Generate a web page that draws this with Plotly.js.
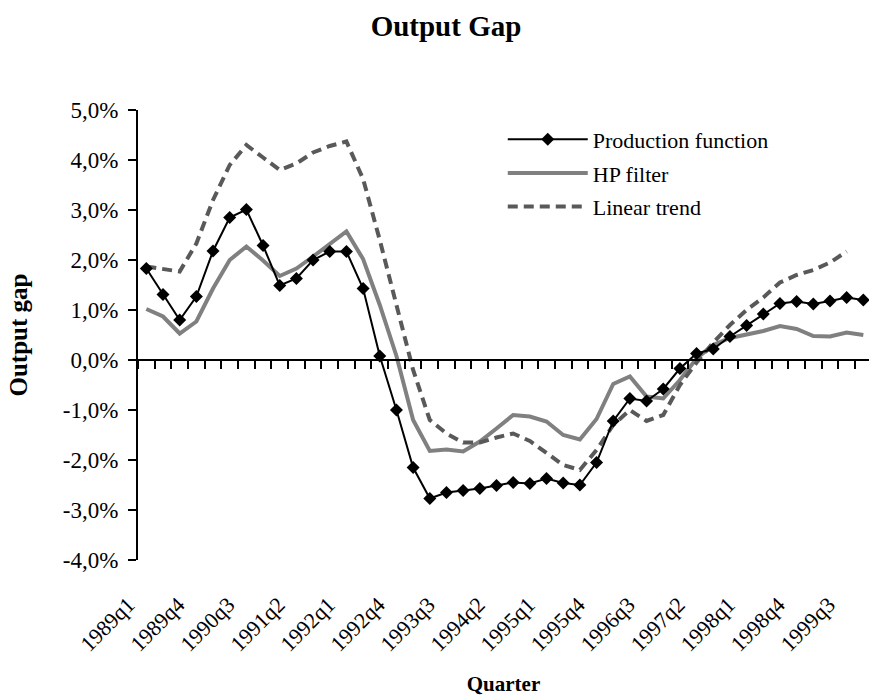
<!DOCTYPE html>
<html>
<head>
<meta charset="utf-8">
<script src="https://cdn.plot.ly/plotly-3.0.1.min.js"></script>
<style>
html, body { margin: 0; padding: 0; background: #ffffff; }
#chart { width: 869px; height: 696px; }
</style>
</head>
<body>
<div id="chart"></div>
<script>
const quarters = [
  '1989q1','1989q2','1989q3','1989q4',
  '1990q1','1990q2','1990q3','1990q4',
  '1991q1','1991q2','1991q3','1991q4',
  '1992q1','1992q2','1992q3','1992q4',
  '1993q1','1993q2','1993q3','1993q4',
  '1994q1','1994q2','1994q3','1994q4',
  '1995q1','1995q2','1995q3','1995q4',
  '1996q1','1996q2','1996q3','1996q4',
  '1997q1','1997q2','1997q3','1997q4',
  '1998q1','1998q2','1998q3','1998q4',
  '1999q1','1999q2','1999q3','1999q4'
];

const tickLabels = ['1989q1','1989q4','1990q3','1991q2','1992q1','1992q4','1993q3',
  '1994q2','1995q1','1995q4','1996q3','1997q2','1998q1','1998q4','1999q3'];

const yTickVals = [-4, -3, -2, -1, 0, 1, 2, 3, 4, 5];
const yTickText = ['-4,0%','-3,0%','-2,0%','-1,0%','0,0%','1,0%','2,0%','3,0%','4,0%','5,0%'];

// Output gap, percent
const productionFunction = [
  1.83, 1.31, 0.80, 1.27,
  2.18, 2.85, 3.01, 2.29,
  1.49, 1.63, 2.00, 2.17,
  2.17, 1.43, 0.08, -1.00,
  -2.15, -2.77, -2.65, -2.61,
  -2.57, -2.51, -2.45, -2.47,
  -2.37, -2.46, -2.50, -2.05,
  -1.22, -0.77, -0.82, -0.58,
  -0.17, 0.13, 0.22, 0.47,
  0.69, 0.92, 1.13, 1.17,
  1.12, 1.18, 1.25, 1.20
];

const hpFilter = [
  1.02, 0.87, 0.53, 0.77,
  1.43, 2.00, 2.27, 1.99,
  1.68, 1.83, 2.07, 2.32,
  2.57, 2.02, 1.10, 0.08,
  -1.20, -1.82, -1.79, -1.83,
  -1.63, -1.37, -1.10, -1.13,
  -1.23, -1.50, -1.59, -1.18,
  -0.48, -0.33, -0.73, -0.77,
  -0.40, 0.03, 0.30, 0.44,
  0.50, 0.58, 0.68, 0.62,
  0.48, 0.47, 0.55, 0.50
];

const linearTrend = [
  1.87, 1.83, 1.77, 2.33,
  3.20, 3.90, 4.30, 4.05,
  3.80, 3.93, 4.15, 4.28,
  4.37, 3.62, 2.40, 1.10,
  -0.20, -1.20, -1.47, -1.65,
  -1.65, -1.55, -1.47, -1.62,
  -1.87, -2.10, -2.20, -1.80,
  -1.30, -1.00, -1.22, -1.10,
  -0.50, -0.05, 0.35, 0.70,
  1.00, 1.25, 1.55, 1.70,
  1.80, 1.95, 2.17, null
];

const FONT = 'Liberation Serif, Times New Roman, serif';

const traces = [
  {
    x: quarters, y: hpFilter, name: 'HP filter', type: 'scatter', mode: 'lines',
    line: { color: '#808080', width: 4 }, legendrank: 2, legendgroup: 'hp', hoverinfo: 'skip'
  },
  {
    x: quarters, y: linearTrend, name: 'Linear trend', type: 'scatter', mode: 'lines',
    line: { color: '#595959', width: 4, dash: '10px,6px' }, legendrank: 3, legendgroup: 'lt', hoverinfo: 'skip'
  },
  {
    x: quarters, y: productionFunction, name: 'Production function', type: 'scatter',
    mode: 'lines+markers',
    line: { color: '#000000', width: 2 },
    marker: { symbol: 'diamond', size: 10, color: '#000000' },
    legendrank: 1, legendgroup: 'pf', hoverinfo: 'skip'
  },
  {
    x: quarters, y: quarters.map(function () { return null; }), xaxis: 'x2', yaxis: 'y',
    type: 'scatter', mode: 'lines', showlegend: false, hoverinfo: 'skip'
  }
];

const xRange = [-0.5, 43.34];

const layout = {
  width: 869, height: 696,
  margin: { l: 138, r: 0, t: 110, b: 136, pad: 0 },
  paper_bgcolor: '#ffffff', plot_bgcolor: '#ffffff',
  font: { family: FONT, color: '#000000', size: 21 },
  title: {
    text: 'Output Gap',
    font: { family: FONT, size: 29, weight: 'bold', color: '#000000' },
    xref: 'container', x: 446 / 869, xanchor: 'center',
    yref: 'container', y: 1 - 26 / 696, yanchor: 'middle'
  },
  showlegend: true,
  legend: {
    x: 0.499, y: 0.981, xanchor: 'left', yanchor: 'top',
    bgcolor: 'rgba(0,0,0,0)', borderwidth: 0,
    font: { family: FONT, size: 22, color: '#000000' },
    itemwidth: 80, traceorder: 'grouped', tracegroupgap: 2
  },
  xaxis: {
    type: 'category', range: xRange,
    tickmode: 'array', tickvals: tickLabels, ticktext: tickLabels,
    tickangle: -45, ticks: 'outside', ticklen: 22, tickcolor: 'rgba(0,0,0,0)',
    ticklabelshift: -18,
    showline: false, showgrid: false, zeroline: false,
    tickfont: { family: FONT, size: 22, color: '#000000' },
    title: { text: 'Quarter', font: { family: FONT, size: 21, weight: 'bold', color: '#000000' }, standoff: 26 }
  },
  xaxis2: {
    type: 'category', overlaying: 'x', anchor: 'free', position: 4 / 9,
    range: xRange, tickmode: 'linear', tick0: 0, dtick: 1, tickson: 'boundaries',
    ticks: 'outside', ticklen: 8, tickwidth: 2, tickcolor: '#000000',
    showline: true, linewidth: 2, linecolor: '#000000',
    showticklabels: false, showgrid: false, zeroline: false
  },
  yaxis: {
    range: [-4, 5], tickmode: 'array', tickvals: yTickVals, ticktext: yTickText,
    ticks: 'outside', ticklen: 8, tickwidth: 2, tickcolor: '#000000',
    ticklabelstandoff: 5,
    showline: true, linewidth: 2, linecolor: '#000000',
    showgrid: false, zeroline: false,
    tickfont: { family: FONT, size: 23, color: '#000000' },
    title: { text: 'Output gap', font: { family: FONT, size: 25, weight: 'bold', color: '#000000' }, standoff: 28 }
  }
};

Plotly.newPlot('chart', traces, layout, { displayModeBar: false, staticPlot: true });
</script>
</body>
</html>
